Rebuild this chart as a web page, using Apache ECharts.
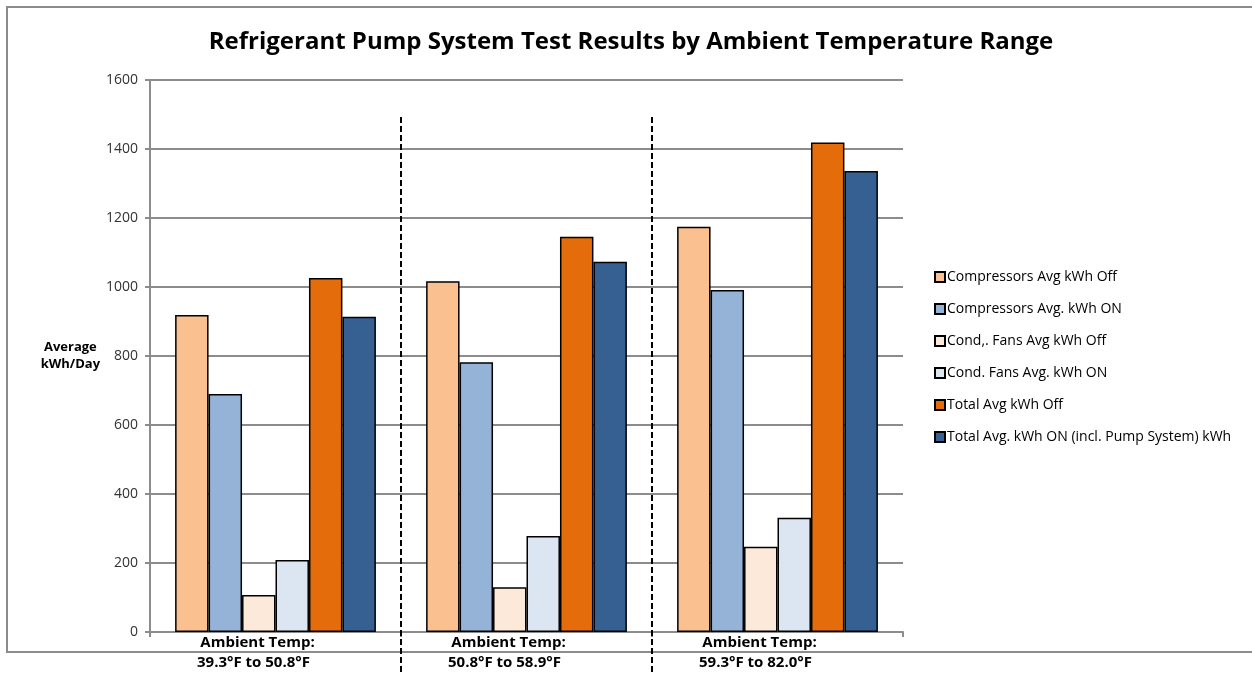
<!DOCTYPE html>
<html>
<head>
<meta charset="utf-8">
<script src="https://cdn.jsdelivr.net/npm/echarts@6/dist/echarts.min.js"></script>
<style>
  html, body { margin: 0; padding: 0; background: #fff; }
  #chart { width: 1252px; height: 673px; }
</style>
</head>
<body>
<div id="chart"></div>
<script>
// temperature ranges (x categories)
var rangeLabels = ["39.3°F to 50.8°F", "50.8°F to 58.9°F", "59.3°F to 82.0°F"];

var seriesNames = [
  "Compressors Avg kWh Off",
  "Compressors Avg. kWh ON",
  "Cond,. Fans Avg kWh Off",
  "Cond. Fans Avg. kWh ON",
  "Total Avg kWh Off",
  "Total Avg. kWh ON (incl. Pump System) kWh"
];
var seriesColors = ["#FAC090", "#95B3D7", "#FDE9D9", "#DCE6F2", "#E46C0A", "#366092"];

// values per series, one per range
var compOff = [919, 1017, 1175];
var compOn = [690, 782, 991];
var fansOff = [107, 130, 247];
var fansOn = [209, 278, 331];
var totalOff = [1026, 1146, 1419];
var totalOn = [914, 1073, 1336];

var values = [compOff, compOn, fansOff, fansOn, totalOff, totalOn];

var font = "Open Sans";
var chart = echarts.init(document.getElementById("chart"));

var option = {
  backgroundColor: "#fff",
  animation: false,
  textStyle: { fontFamily: font },
  title: {
    text: "Refrigerant Pump System Test Results by Ambient Temperature Range",
    left: 626,
    textAlign: "center",
    top: 25,
    textStyle: { fontSize: 24, fontWeight: "bold", color: "#000", fontFamily: font }
  },
  legend: {
    orient: "vertical",
    left: 929,
    top: 265,
    itemWidth: 10,
    itemHeight: 10,
    itemGap: 18,
    icon: "rect",
    textStyle: { fontSize: 14, color: "#000", fontFamily: font, padding: [0, 0, 0, -3] },
    data: seriesNames
  },
  grid: { left: 150, right: 349, top: 80, bottom: 41, containLabel: false },
  xAxis: {
    type: "category",
    data: rangeLabels,
    axisLine: { lineStyle: { color: "#8c8c8c", width: 2 } },
    axisTick: { show: true, length: 5, lineStyle: { color: "#8c8c8c", width: 2 } },
    axisLabel: {
      margin: 1,
      formatter: function (v) { return "{a|Ambient Temp:}\n{b|" + v + "}"; },
      rich: {
        a: { fontSize: 15, fontWeight: "bold", color: "#000", lineHeight: 20, fontFamily: font, padding: [0, 36, 0, 0] },
        b: { fontSize: 15, fontWeight: "bold", color: "#000", lineHeight: 20, fontFamily: font, padding: [0, 44, 0, 0] }
      }
    }
  },
  yAxis: {
    type: "value",
    min: 0,
    max: 1600,
    interval: 200,
    name: "Average\nkWh/Day",
    nameLocation: "middle",
    nameRotate: 0,
    nameGap: 62,
    nameTextStyle: { fontSize: 13, fontWeight: "bold", color: "#000", lineHeight: 17, fontFamily: font, align: "center" },
    axisLine: { show: true, lineStyle: { color: "#8c8c8c", width: 2 } },
    axisTick: { show: true, length: 5, lineStyle: { color: "#8c8c8c", width: 2 } },
    axisLabel: { fontSize: 14, color: "#333", margin: 12, fontFamily: font, formatter: function (v) { return String(v); } },
    splitLine: { lineStyle: { color: "#8c8c8c", width: 2 } }
  },
  series: seriesNames.map(function (name, i) {
    return {
      name: name,
      type: "bar",
      data: values[i],
      barGap: "0%",
      barCategoryGap: "20%",
      itemStyle: { color: seriesColors[i], borderColor: "#000", borderWidth: 1.5 }
    };
  })
};

chart.setOption(option);

// dashed separators between the temperature ranges
var lines = [];
for (var k = 1; k < rangeLabels.length; k++) {
  var x0 = chart.convertToPixel({ xAxisIndex: 0 }, k - 1);
  var x1 = chart.convertToPixel({ xAxisIndex: 0 }, k);
  var xm = Math.round((x0 + x1) / 2);
  lines.push({
    type: "line",
    shape: { x1: xm, y1: 117, x2: xm, y2: 673 },
    style: { stroke: "#000", lineWidth: 2, lineDash: [6, 3] },
    z: 10
  });
}
// chart frame
lines.push({
  type: "rect",
  shape: { x: 7, y: 7, width: 1260, height: 645 },
  style: { fill: null, stroke: "#8c8c8c", lineWidth: 2 },
  z: 0
});
chart.setOption({ graphic: lines });
</script>
</body>
</html>
